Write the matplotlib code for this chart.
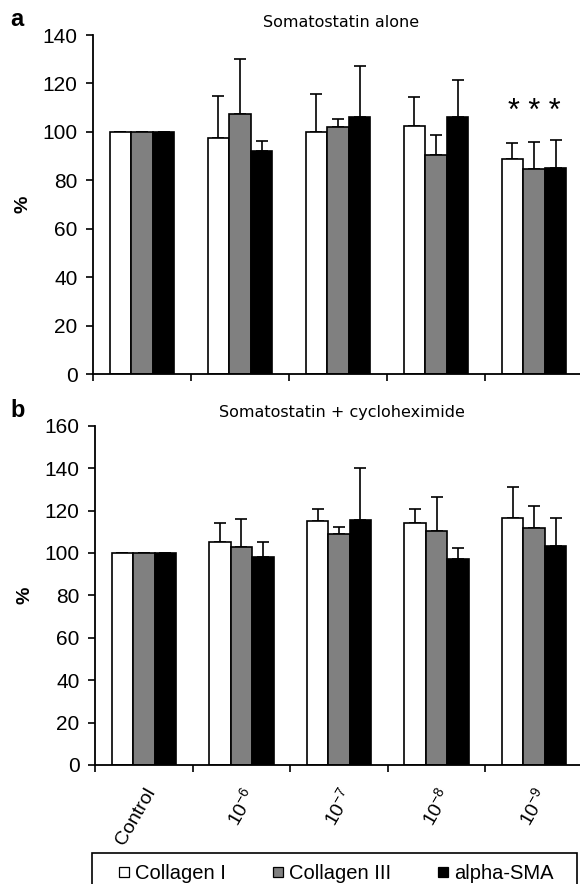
import numpy as np
import matplotlib
matplotlib.use("Agg")
import matplotlib.pyplot as plt
from matplotlib.patches import Rectangle

# categories and series (% of control)
groups = ["Control", "10$^{\\mathregular{-6}}$", "10$^{\\mathregular{-7}}$",
          "10$^{\\mathregular{-8}}$", "10$^{\\mathregular{-9}}$"]
series = ["Collagen I", "Collagen III", "alpha-SMA"]
colors = ["white", "#808080", "black"]

# panel a: somatostatin alone
a_col1 = [100, 97.5, 100, 102.6, 88.7]
a_col3 = [100, 107.2, 102.0, 90.6, 84.6]
a_sma = [100, 92.3, 106.0, 106.0, 85.0]
a_col1_err = [0, 17.5, 15.6, 11.6, 6.8]
a_col3_err = [0, 22.8, 3.3, 8.0, 11.4]
a_sma_err = [0, 3.8, 21.3, 15.5, 11.7]

# panel b: somatostatin + cycloheximide
b_col1 = [100, 105.3, 114.9, 114.1, 116.5]
b_col3 = [100, 103.0, 108.9, 110.5, 111.9]
b_sma = [100, 98.0, 115.7, 97.2, 103.1]
b_col1_err = [0, 8.6, 5.8, 6.6, 14.5]
b_col3_err = [0, 12.8, 3.2, 16.1, 10.4]
b_sma_err = [0, 7.0, 24.3, 5.2, 13.2]

plt.rcParams['font.family'] = ['Liberation Sans', 'DejaVu Sans']

W, H = 580, 884
fig = plt.figure(figsize=(W / 100, H / 100), dpi=100)


def panel(rect, vals, errs, ymax, title, letter):
    ax = fig.add_axes(rect)
    x = np.arange(len(groups))
    w = 0.22
    for i, (v, e) in enumerate(zip(vals, errs)):
        ax.bar(x + (i - 1) * w, v, w, color=colors[i], edgecolor="black",
               linewidth=1.2, zorder=2)
        ax.errorbar(x + (i - 1) * w, v, yerr=[np.zeros(len(e)), e], fmt="none",
                    ecolor="black", elinewidth=1.2, capsize=4.5, capthick=1.2,
                    zorder=1)
    ax.set_xlim(-0.5, len(groups) - 0.5)
    ax.set_ylim(0, ymax)
    ax.set_yticks(np.arange(0, ymax + 1, 20))
    ax.set_xticks(np.arange(len(groups) + 1) - 0.5)
    ax.set_xticklabels([])
    ax.tick_params(axis="both", direction="out", length=5, width=1.2,
                   labelsize=15, pad=6)
    for s in ["top", "right"]:
        ax.spines[s].set_visible(False)
    for s in ["left", "bottom"]:
        ax.spines[s].set_linewidth(1.3)
    ax.set_ylabel("%", fontsize=14, fontweight="bold", labelpad=8)
    fig.text(rect[0] + 0.506 * rect[2], rect[1] + rect[3] + 0.006, title,
             fontsize=11.5, family="DejaVu Sans", ha="center", va="bottom")
    fig.text(10 / W, rect[1] + rect[3] + 0.004, letter, fontsize=17,
             fontweight="bold", va="bottom")
    return ax


ax_a = panel([93 / W, 1 - 374 / H, 490 / W, 339 / H],
             [a_col1, a_col3, a_sma], [a_col1_err, a_col3_err, a_sma_err],
             140, "Somatostatin alone", "a")
ax_a.text(4, 102, "* * *", ha="center", va="bottom", fontsize=22)

ax_b = panel([95 / W, 1 - 765 / H, 488 / W, 339.3 / H],
             [b_col1, b_col3, b_sma], [b_col1_err, b_col3_err, b_sma_err],
             160, "Somatostatin + cycloheximide", "b")
ax_b.set_xticks(np.arange(len(groups)), minor=True)
ax_b.set_xticklabels(groups, minor=True, rotation=60, ha="right",
                     rotation_mode="anchor", fontsize=14)
ax_b.tick_params(axis="x", which="minor", length=0, pad=14)

# legend box along the bottom edge (runs off the figure like the original)
fig.add_artist(Rectangle((92 / W, 1 - 900 / H), 485 / W, 47 / H,
                         transform=fig.transFigure, facecolor="white",
                         edgecolor="black", linewidth=1.2))
key_x = [119, 273, 438]
for c, name, kx in zip(colors, series, key_x):
    fig.add_artist(Rectangle((kx / W, 1 - 877 / H), 10 / W, 10 / H,
                             transform=fig.transFigure, facecolor=c,
                             edgecolor="black", linewidth=0.9))
    fig.text((kx + 16) / W, 1 - 879 / H, name, fontsize=14.5,
             ha="left", va="baseline")

fig.savefig("out.png", dpi=100)
